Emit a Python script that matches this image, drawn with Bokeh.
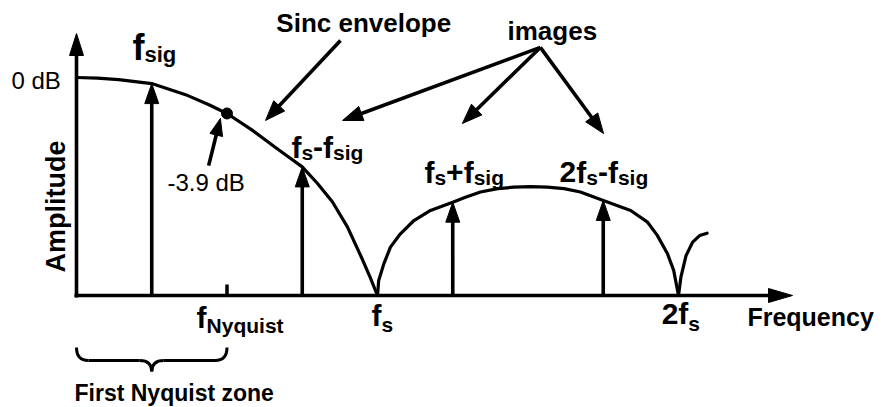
import math
from bokeh.plotting import figure
from bokeh.models import Range1d, ColumnDataSource
from bokeh.core.properties import value
from bokeh.embed import file_html
from bokeh.resources import INLINE

# Spectrum of a sampled tone after a zero-order hold.
# Frequency in units of fs, amplitude relative to the DC value of the envelope.
main_lobe_f = [0.0, 0.07, 0.14, 0.25, 0.37, 0.44, 0.50, 0.58, 0.66, 0.70, 0.75, 0.80, 0.85, 0.90, 0.95, 0.975, 1.0]
main_lobe_a = [1.0, 0.997, 0.99, 0.972, 0.917, 0.875, 0.835, 0.762, 0.68, 0.64, 0.59, 0.515, 0.43, 0.315, 0.165, 0.085, 0.0]

second_lobe_f = [1.0, 1.004, 1.021, 1.043, 1.076, 1.121, 1.176, 1.25, 1.29, 1.342, 1.40, 1.453, 1.51, 1.564,
                 1.62, 1.674, 1.75, 1.841, 1.896, 1.929, 1.963, 1.984, 2.0]
second_lobe_a = [0.0, 0.069, 0.145, 0.222, 0.283, 0.344, 0.390, 0.428, 0.45, 0.475, 0.49, 0.497, 0.499, 0.497,
                 0.49, 0.475, 0.436, 0.39, 0.338, 0.277, 0.193, 0.115, 0.0]

third_lobe_f = [2.0, 2.008, 2.025, 2.047, 2.07, 2.095]
third_lobe_a = [0.0, 0.084, 0.183, 0.245, 0.275, 0.286]

# Tone and its images
tone_f = [0.25, 0.75, 1.25, 1.75]
tone_a = [0.972, 0.59, 0.428, 0.436]

# Envelope value at the Nyquist frequency
nyquist_f = 0.5
nyquist_a = 0.835
nyquist_db = "-3.9 dB"
top_db = "0 dB"

# ---- canvas ----
W, H = 882, 407
X0, X1 = -76 / 301, (W - 76) / 301
Y0, Y1 = -(H - 295) / 218, 295 / 218
SX = W / (X1 - X0)   # px per fs
SY = H / (Y1 - Y0)   # px per amplitude unit
LIFT = 0.35          # baseline correction for SVG text, in em

p = figure(width=W, height=H, x_range=Range1d(X0, X1), y_range=Range1d(Y0, Y1),
           output_backend="svg", toolbar_location=None,
           x_axis_type=None, y_axis_type=None, min_border=0)
p.grid.visible = False
p.outline_line_color = None
p.background_fill_color = "white"
p.border_fill_color = "white"

INK = "black"
FONT = value("Liberation Sans")

# ---- arrows (shaft + filled head with pixel-sized geometry) ----
shaft_x, shaft_y = [], []
head_x, head_y = [], []


def arrow(x0, y0, x1, y1, head_len=20, head_w=14):
    dx, dy = (x1 - x0) * SX, (y1 - y0) * SY
    L = math.hypot(dx, dy)
    ux, uy = dx / L, dy / L
    bx = x1 - ux * head_len / SX
    by = y1 - uy * head_len / SY
    px, py = -uy * head_w / 2, ux * head_w / 2
    shaft_x.append([x0, bx + ux * 2 / SX])
    shaft_y.append([y0, by + uy * 2 / SY])
    head_x.append([x1, bx + px / SX, bx - px / SX])
    head_y.append([y1, by + py / SY, by - py / SY])


# axes
arrow(-2 / SX, 0, 716 / SX, 0, head_len=24, head_w=14)
arrow(0, -2 / SY, 0, 262 / SY, head_len=22, head_w=14)

# tone and images
for f, a in zip(tone_f, tone_a):
    arrow(f, 0, f, a, head_len=20, head_w=14)

# pointers
arrow(0.877, 1.170, 0.628, 0.803, head_len=20, head_w=15)          # Sinc envelope
images_origin = (1.541, 1.138)
for tx, ty in [(0.884, 0.803), (1.282, 0.789), (1.751, 0.743)]:
    arrow(images_origin[0], images_origin[1], tx, ty, head_len=20, head_w=15)
arrow(0.439, 0.596, 0.478, 0.812, head_len=17, head_w=13)           # -3.9 dB

p.multi_line(shaft_x, shaft_y, line_color=INK, line_width=3.6, line_cap="butt")
p.patches(head_x, head_y, fill_color=INK, line_color=INK, line_width=1)

# Nyquist tick
p.segment(x0=[nyquist_f], y0=[0], x1=[nyquist_f], y1=[11 / SY], line_color=INK, line_width=3.5)

# sinc envelope
for fx, ax in [(main_lobe_f, main_lobe_a), (second_lobe_f, second_lobe_a), (third_lobe_f, third_lobe_a)]:
    p.line(fx, ax, line_color=INK, line_width=3.2, line_join="round", line_cap="round")

p.scatter([nyquist_f], [nyquist_a], size=11, fill_color=INK, line_color=INK)

# brace under the first Nyquist zone
by0 = -52 / SY
by1 = -65 / SY
by2 = -76 / SY
cw = 12 / SX
mid = nyquist_f / 2
p.quadratic(x0=[0, mid - cw, mid + cw, nyquist_f - cw],
            y0=[by0, by1, by1, by1],
            x1=[cw, mid, mid, nyquist_f],
            y1=[by1, by2, by2, by0],
            cx=[0, mid, mid, nyquist_f],
            cy=[by1, by1, by1, by1],
            line_color=INK, line_width=3)
p.segment(x0=[cw, mid + cw], y0=[by1, by1], x1=[mid - cw, nyquist_f - cw], y1=[by1, by1],
          line_color=INK, line_width=3)

# ---- text ----
BOLD_W = {"f": .333, "s": .556, "i": .278, "g": .611, "-": .333, "+": .584, "2": .556,
          "N": .722, "y": .556, "q": .611, "u": .611, "t": .333}

lab = dict(x=[], y=[], text=[], size=[])


def put(x, y, txt, size):
    lab["x"].append(x)
    lab["y"].append(y + LIFT * size / SY)
    lab["text"].append(txt)
    lab["size"].append(f"{size}px")


def rich(x, y, parts):
    cx = x
    for txt, size, drop in parts:
        put(cx, y - drop / SY, txt, size)
        cx += sum(BOLD_W[c] for c in txt) * size / SX


M, S = 30, 21
rich(0.186, 1.078, [("f", 36, 0), ("sig", 22, 2)])
rich(0.714, 0.633, [("f", M, 0), ("s", S, 2), ("-", M, 0), ("f", M, 0), ("sig", S, 2)])
rich(1.156, 0.518, [("f", M, 0), ("s", S, 2), ("+", M, 0), ("f", M, 0), ("sig", S, 2)])
rich(1.605, 0.518, [("2", M, 0), ("f", M, 0), ("s", S, 2), ("-", M, 0), ("f", M, 0), ("sig", S, 2)])
rich(0.399, -0.147, [("f", M, 0), ("Nyquist", S, 5)])
rich(0.980, -0.138, [("f", M, 0), ("s", S, 6)])
rich(1.944, -0.133, [("2", M, 0), ("f", M, 0), ("s", S, 6)])

for t, x, y, size in [("Sinc envelope", 0.664, 1.206, 26), ("images", 1.432, 1.170, 26),
                      ("Frequency", 2.229, -0.138, 25), ("First Nyquist zone", -0.0066, -0.486, 23)]:
    put(x, y, t, size)

p.text(x="x", y="y", text="text", text_font_size="size", source=ColumnDataSource(lab),
       text_font=FONT, text_font_style="bold", text_color=INK,
       text_align="left", text_baseline="alphabetic")

p.text(x=[-0.216, 0.302], y=[0.950 + LIFT * 24 / SY, 0.482 + LIFT * 24 / SY], text=[top_db, nyquist_db],
       text_font=FONT, text_font_size="24px", text_color=INK,
       text_align="left", text_baseline="alphabetic")

p.text(x=[-0.0365 - LIFT * 27 / SX], y=[0.408], text=["Amplitude"], angle=math.pi / 2,
       text_font=FONT, text_font_size="27px", text_font_style="bold", text_color=INK,
       text_align="center", text_baseline="alphabetic")

open("out.html", "w").write(file_html(p, INLINE))
